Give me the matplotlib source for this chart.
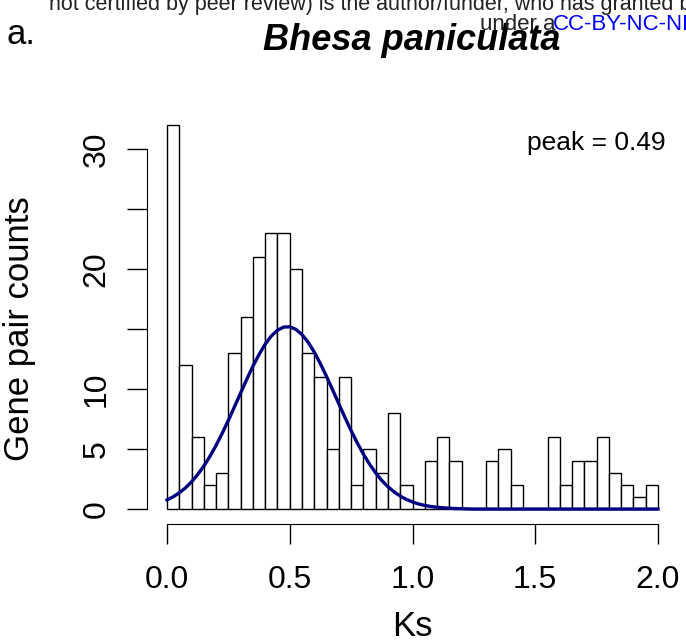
"""Ks distribution for Bhesa paniculata: histogram of gene pair counts with fitted peak."""

import matplotlib
matplotlib.use("Agg")
import matplotlib.pyplot as plt

plt.rcParams["font.family"] = ["Liberation Sans", "DejaVu Sans"]

# histogram bins (left edges, width 0.05) and gene pair counts
bin_width = 0.05
bin_left = [round(i * bin_width, 2) for i in range(40)]
counts = [32, 12, 6, 2, 3, 13, 16, 21, 23, 23,
          20, 13, 11, 5, 11, 2, 5, 3, 8, 2,
          0, 4, 6, 4, 0, 0, 4, 5, 2, 0,
          0, 6, 2, 4, 4, 6, 3, 2, 1, 2]

# fitted curve, every 0.025 up to 1.25, flat after that
curve_x = [round(i * 0.025, 3) for i in range(51)] + [2.0]
curve_y = [0.76, 1.02, 1.35, 1.76, 2.27, 2.88, 3.58, 4.40, 5.31, 6.32,
           7.40, 8.53, 9.68, 10.82, 11.90, 12.88, 13.74, 14.42, 14.90, 15.16,
           15.18, 14.97, 14.53, 13.89, 13.07, 12.10, 11.04, 9.91, 8.76, 7.62,
           6.53, 5.51, 4.57, 3.74, 3.01, 2.38, 1.86, 1.43, 1.08, 0.80,
           0.59, 0.42, 0.30, 0.21, 0.15, 0.10, 0.07, 0.04, 0.03, 0.01,
           0.0, 0.0]

x_ticks = [0.0, 0.5, 1.0, 1.5, 2.0]
x_labels = ["0.0", "0.5", "1.0", "1.5", "2.0"]
y_ticks = [0, 5, 10, 15, 20, 25, 30]
y_labels = ["0", "5", "10", "", "20", "", "30"]

title = "Bhesa paniculata"
peak_text = "peak = 0.49"

W, H = 686, 644
fig = plt.figure(figsize=(W / 100, H / 100), dpi=100)
ax = fig.add_axes([147.4 / W, 1 - 524.4 / H, (677.6 - 147.4) / W, (524.4 - 109.6) / H])

ax.bar(bin_left, counts, width=bin_width, align="edge",
       facecolor="white", edgecolor="black", linewidth=1.0)
ax.plot(curve_x, curve_y, color="#000080", linewidth=2.4)

ax.set_xlim(-0.08, 2.08)
ax.set_ylim(-1.28, 33.28)

for side in ("top", "right"):
    ax.spines[side].set_visible(False)
ax.spines["left"].set_bounds(0, 30)
ax.spines["bottom"].set_bounds(0, 2)

ax.set_xticks(x_ticks)
ax.set_xticklabels(x_labels)
ax.set_yticks(y_ticks)
ax.set_yticklabels(y_labels, rotation=90, va="center", ha="center")
ax.tick_params(axis="both", length=14.4, width=1.0, labelsize=23)
ax.tick_params(axis="x", pad=15)
ax.tick_params(axis="y", pad=22)

ax.text(2.03, 30.5, peak_text, ha="right", va="center", fontsize=19)

fig.text(20 / W, 1 - 329 / H, "Gene pair counts", rotation=90,
         ha="center", va="center", fontsize=25)
fig.text(412 / W, 1 - 626 / H, "Ks", ha="center", va="center", fontsize=25)

# panel letter, title and the preprint watermark lines
fig.text(7 / W, 1 - 35 / H, "a.", ha="left", va="center", fontsize=25)
fig.text(49 / W, 1 - 10 / H,
         "not certified by peer review) is the author/funder, who has granted b",
         ha="left", va="baseline", fontsize=15.5, color="#222222")
fig.text(412 / W, 1 - 41 / H, title, ha="center", va="center",
         fontsize=26, fontweight="bold", fontstyle="italic")
fig.text(480 / W, 1 - 25 / H, "under a", ha="left", va="center",
         fontsize=16, color="#222222")
fig.text(553 / W, 1 - 25 / H, "CC-BY-NC-ND", ha="left", va="center",
         fontsize=16, color="#0000ff")

fig.savefig("out.png", dpi=100)
